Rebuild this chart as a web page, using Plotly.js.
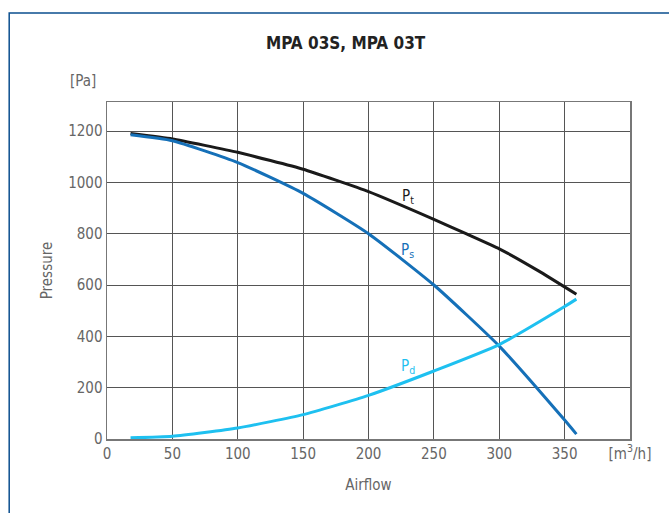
<!DOCTYPE html>
<html>
<head>
<meta charset="utf-8">
<script src="https://cdn.plot.ly/plotly-3.0.1.min.js"></script>
<style>html,body{margin:0;padding:0;background:#fff;}#chart{width:669px;height:513px;}</style>
</head>
<body>
<div id="chart"></div>
<script>
// Data
const airflowPt = [18, 50, 100, 150, 200, 250, 275, 300, 330, 359];
const pressurePt = [1190, 1169, 1117, 1051, 964, 856, 799, 741, 655, 564];
const airflowPs = [18, 50, 100, 150, 200, 250, 300, 350, 359];
const pressurePs = [1185, 1162, 1077, 957, 800, 600, 362, 74, 19];
const airflowPd = [18, 50, 100, 150, 200, 250, 300, 350, 359];
const pressurePd = [5, 11, 43, 95, 170, 265, 368, 516, 545];
const xTickVals = [0, 50, 100, 150, 200, 250, 300, 350, 400];
const xTickText = ['0', '50', '100', '150', '200', '250', '300', '350', '[m<sup>3</sup>/h]'];
const yTickVals = [0, 200, 400, 600, 800, 1000, 1200];

const FONT = '"Liberation Sans Narrow", "DejaVu Sans Condensed", "Roboto", sans-serif';

const traces = [
  {x: airflowPt, y: pressurePt, mode: 'lines', line: {color: '#1a1a1a', width: 3, shape: 'spline', smoothing: 0.4}, name: 'Pt'},
  {x: airflowPs, y: pressurePs, mode: 'lines', line: {color: '#1570b8', width: 3, shape: 'spline', smoothing: 0.5}, name: 'Ps'},
  {x: airflowPd, y: pressurePd, mode: 'lines', line: {color: '#1ec0f0', width: 3, shape: 'spline', smoothing: 0.5}, name: 'Pd'}
];

const layout = {
  width: 669, height: 513,
  margin: {l: 107, r: 39, t: 102, b: 74},
  paper_bgcolor: '#ffffff', plot_bgcolor: '#ffffff',
  showlegend: false,
  font: {family: FONT, color: '#666', size: 14},
  xaxis: {
    range: [0, 400], tickvals: xTickVals, ticktext: xTickText,
    showgrid: true, gridcolor: '#555', gridwidth: 1,
    showline: true, linecolor: '#777', linewidth: 1.5, mirror: true,
    zeroline: false, ticks: '', ticklen: 0,
    tickfont: {family: FONT, size: 15, color: '#666'},
    title: {text: 'Airflow', font: {family: FONT, size: 15, color: '#666'}, standoff: 18}
  },
  yaxis: {
    range: [0, 1313], tickvals: yTickVals,
    showgrid: true, gridcolor: '#555', gridwidth: 1,
    showline: true, linecolor: '#777', linewidth: 1.5, mirror: true,
    zeroline: false, ticks: '', ticklen: 0,
    tickfont: {family: FONT, size: 15, color: '#666'},
    title: {text: 'Pressure', font: {family: FONT, size: 15, color: '#666'}, standoff: 12}
  },
  annotations: [
    {xref: 'paper', yref: 'paper', x: 0.457, y: 1.175, text: 'MPA 03S, MPA 03T', showarrow: false,
     font: {family: FONT, size: 17, color: '#222', weight: 'bold'}, xanchor: 'center', yanchor: 'middle'},
    {xref: 'paper', yref: 'paper', x: -0.017, y: 1.062, text: '[Pa]', showarrow: false, xanchor: 'right', yanchor: 'middle',
     font: {family: FONT, size: 15, color: '#666'}},
    {x: 230, y: 946, text: 'P<sub>t</sub>', showarrow: false, font: {family: FONT, size: 15, color: '#1a1a1a'}},
    {x: 230, y: 736, text: 'P<sub>s</sub>', showarrow: false, font: {family: FONT, size: 15, color: '#1570b8'}},
    {x: 230, y: 284, text: 'P<sub>d</sub>', showarrow: false, font: {family: FONT, size: 15, color: '#1ec0f0'}}
  ],
  shapes: [
    {type: 'rect', xref: 'paper', yref: 'paper', x0: -0.187, x1: 1.6, y0: -0.6, y1: 1.264,
     line: {color: '#0b4f8f', width: 1.5}, fillcolor: 'rgba(0,0,0,0)', layer: 'below'}
  ]
};

Plotly.newPlot('chart', traces, layout, {staticPlot: true, displayModeBar: false});
</script>
</body>
</html>
